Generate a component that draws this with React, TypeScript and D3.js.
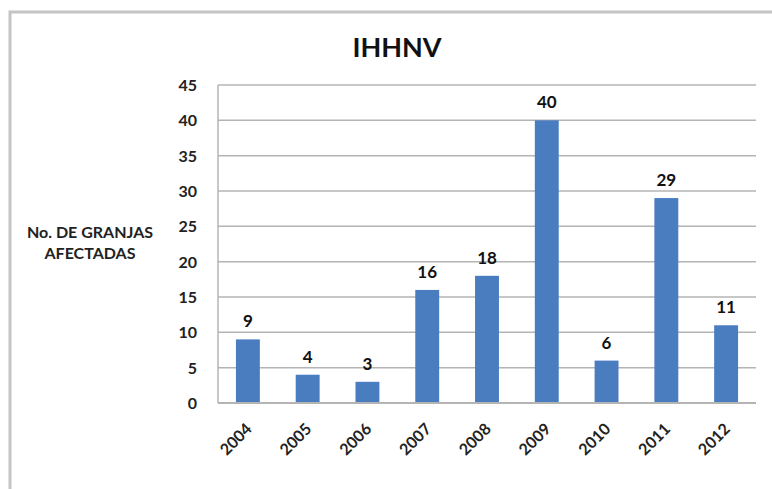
import React from "react";
import * as d3 from "d3";

const years = ["2004", "2005", "2006", "2007", "2008", "2009", "2010", "2011", "2012"];
const farms = [9, 4, 3, 16, 18, 40, 6, 29, 11];
const yTicks = [0, 5, 10, 15, 20, 25, 30, 35, 40, 45];
const title = "IHHNV";
const yLabelLines = ["No. DE GRANJAS", "AFECTADAS"];

const W = 772;
const H = 489;
const plot = { left: 218, right: 756, top: 85, bottom: 403 };
const FONT = "Lato, 'Open Sans', sans-serif";

export default function App() {
  const x = d3.scaleBand<string>().domain(years).range([plot.left, plot.right]).paddingInner(0.6).paddingOuter(0.3);
  const y = d3.scaleLinear().domain([0, 45]).range([plot.bottom, plot.top]);
  return (
    <svg width={W} height={H} style={{ position: "absolute", left: 0, top: 0, background: "#fff" }}>
      <rect x={10} y={12} width={W + 20} height={H + 20} fill="#fff" stroke="#c4c4c4" strokeWidth={3} />
      <text x={397} y={57} textAnchor="middle" fontFamily={FONT} fontWeight="bold" fontSize={27} fill="#111">
        {title}
      </text>
      {yLabelLines.map((l, i) => (
        <text key={l} x={90} y={238 + i * 21} textAnchor="middle" fontFamily={FONT} fontWeight="bold" fontSize={16} fill="#222">
          {l}
        </text>
      ))}
      {yTicks.map((t) => (
        <g key={t}>
          {t > 0 && <line x1={plot.left} x2={plot.right} y1={y(t)} y2={y(t)} stroke="#b4b4b4" strokeWidth={1.5} />}
          <text x={197} y={y(t) + 6} textAnchor="end" fontFamily={FONT} fontWeight="bold" fontSize={16} fill="#222">
            {t}
          </text>
        </g>
      ))}
      <line x1={plot.left} x2={plot.left} y1={plot.top} y2={plot.bottom} stroke="#b4b4b4" strokeWidth={1.5} />
      {years.map((yr, i) => {
        const bx = x(yr) as number;
        const cx = bx + x.bandwidth() / 2;
        return (
          <g key={yr}>
            <rect x={bx} y={y(farms[i])} width={x.bandwidth()} height={plot.bottom - y(farms[i])} fill="#4a7cc0" />
            <text x={cx} y={y(farms[i]) - 12} textAnchor="middle" fontFamily={FONT} fontWeight="bold" fontSize={17} fill="#111">
              {farms[i]}
            </text>
            <text
              transform={`translate(${cx + 5},${plot.bottom + 27}) rotate(-45)`}
              textAnchor="end"
              fontFamily={FONT}
              fontWeight="bold"
              fontSize={16}
              fill="#222"
            >
              {yr}
            </text>
          </g>
        );
      })}
      <line x1={plot.left} x2={plot.right} y1={plot.bottom} y2={plot.bottom} stroke="#b4b4b4" strokeWidth={2} />
    </svg>
  );
}
